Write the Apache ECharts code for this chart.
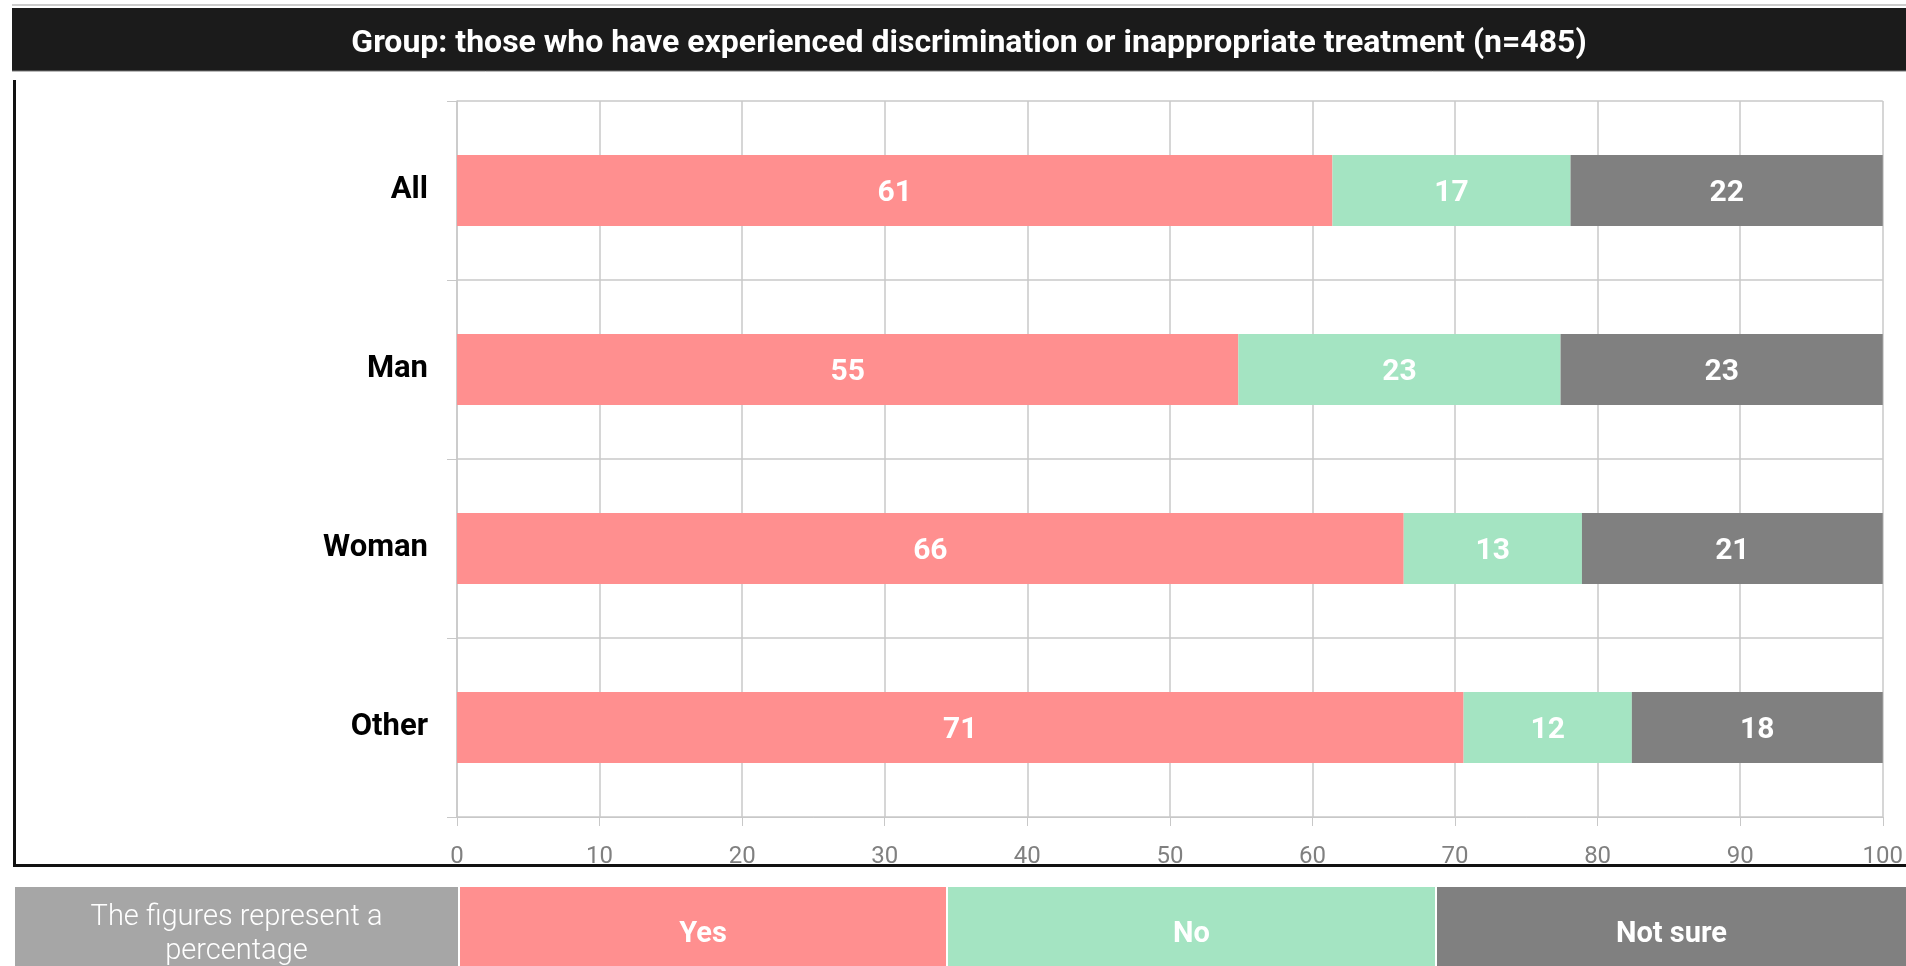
<!DOCTYPE html>
<html>
<head>
<meta charset="utf-8">
<script src="https://cdn.jsdelivr.net/npm/echarts@6/dist/echarts.min.js"></script>
<style>
  html, body { margin: 0; padding: 0; background: #fff; }
  #chart { width: 1906px; height: 966px; }
</style>
</head>
<body>
<div id="chart"></div>
<script>
// data (percent)
const categories = ['All', 'Man', 'Woman', 'Other']
const seriesNames = ['Yes', 'No', 'Not sure']
const yesValues = [61.4, 54.8, 66.4, 70.6]
const noValues = [16.7, 22.6, 12.5, 11.8]
const notSureValues = [21.9, 22.6, 21.1, 17.6]
const xTicks = [0, 100, 10] // min, max, step
const titleText = 'Group: those who have experienced discrimination or inappropriate treatment (n=485)'
const noteText = 'The figures represent a\npercentage'

const colors = ['#FF8F8F', '#A4E4C2', '#808080']
const font = 'Roboto, "Noto Sans", sans-serif'

const chart = echarts.init(document.getElementById('chart'))

const makeSeries = (name, data, color) => ({
  name,
  type: 'bar',
  stack: 'total',
  barWidth: 71,
  data,
  itemStyle: { color },
  label: {
    show: true,
    position: 'inside',
    color: '#fff',
    fontFamily: font,
    fontWeight: 'bold',
    fontSize: 30,
    offset: [0, 3],
    formatter: p => Math.round(p.value)
  },
  emphasis: { disabled: true }
})

// bottom legend boxes
const legendBoxes = [
  { x: 15, w: 443, fill: '#A6A6A6' },
  { x: 460, w: 486, fill: colors[0] },
  { x: 948, w: 487, fill: colors[1] },
  { x: 1437, w: 469, fill: colors[2] }
]
const legendGraphics = []
legendBoxes.forEach((b, i) => {
  legendGraphics.push({
    type: 'rect',
    shape: { x: b.x, y: 887, width: b.w, height: 90 },
    style: { fill: b.fill }
  })
  legendGraphics.push({
    type: 'text',
    x: b.x + b.w / 2,
    y: 935,
    style: {
      text: i === 0 ? noteText : seriesNames[i - 1],
      fill: '#fff',
      font: i === 0 ? `300 29px ${font}` : `bold 29px ${font}`,
      lineHeight: 34,
      align: 'center',
      verticalAlign: 'middle'
    }
  })
})

const option = {
  animation: false,
  grid: { left: 457, right: 21, top: 101, bottom: 149, containLabel: false },
  xAxis: {
    type: 'value',
    min: xTicks[0],
    max: xTicks[1],
    interval: xTicks[2],
    axisLine: { show: true, lineStyle: { color: '#C8C8C8', width: 1 } },
    axisTick: { show: true, length: 9, lineStyle: { color: '#C8C8C8' } },
    axisLabel: { color: '#808080', fontFamily: font, fontSize: 24, margin: 28 },
    splitLine: { show: true, lineStyle: { color: '#C8C8C8', width: 1.5 } }
  },
  yAxis: {
    type: 'category',
    inverse: true,
    data: categories,
    axisLine: { show: true, lineStyle: { color: '#C8C8C8', width: 1.5 } },
    axisTick: { show: true, length: 10, lineStyle: { color: '#C8C8C8' } },
    axisLabel: {
      color: '#000',
      fontFamily: font,
      fontWeight: 'bold',
      fontSize: 31,
      margin: 29,
      padding: [6, 0, 0, 0]
    },
    splitLine: { show: true, lineStyle: { color: '#C8C8C8', width: 1.5 } }
  },
  series: [
    makeSeries(seriesNames[0], yesValues, colors[0]),
    makeSeries(seriesNames[1], noValues, colors[1]),
    makeSeries(seriesNames[2], notSureValues, colors[2])
  ],
  graphic: [
    // title bar
    { type: 'line', shape: { x1: 12, y1: 5, x2: 1906, y2: 5 }, style: { stroke: '#BBBBBB', lineWidth: 1.5 } },
    { type: 'rect', shape: { x: 12, y: 8, width: 1894, height: 63 }, style: { fill: '#1B1B1B' } },
    { type: 'line', shape: { x1: 12, y1: 71, x2: 1906, y2: 71 }, style: { stroke: '#777', lineWidth: 1 } },
    {
      type: 'text',
      x: 969,
      y: 44,
      style: {
        text: titleText,
        fill: '#fff',
        font: `bold 32px ${font}`,
        align: 'center',
        verticalAlign: 'middle'
      }
    },
    // chart frame (left and bottom)
    { type: 'line', shape: { x1: 14.5, y1: 80, x2: 14.5, y2: 866 }, style: { stroke: '#111', lineWidth: 3 } },
    { type: 'line', shape: { x1: 13, y1: 865.5, x2: 1906, y2: 865.5 }, style: { stroke: '#111', lineWidth: 3 } },
    ...legendGraphics
  ]
}

chart.setOption(option)
window.addEventListener('resize', () => chart.resize())
</script>
</body>
</html>
